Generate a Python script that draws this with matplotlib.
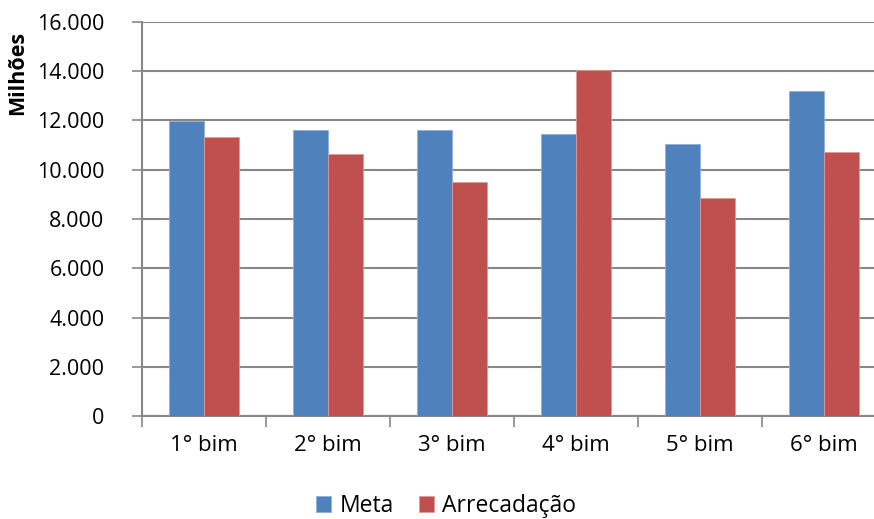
import matplotlib
matplotlib.use("Agg")
import matplotlib.pyplot as plt
import numpy as np

plt.rcParams['font.family'] = ['Open Sans', 'DejaVu Sans']

# bimonthly target vs. collected revenue (millions)
categorias = ["1° bim", "2° bim", "3° bim", "4° bim", "5° bim", "6° bim"]
meta = [11970, 11610, 11610, 11450, 11040, 13190]
arrecadacao = [11320, 10650, 9500, 14050, 8850, 10740]
yticks = [0, 2000, 4000, 6000, 8000, 10000, 12000, 14000, 16000]
ytick_labels = ["0", "2.000", "4.000", "6.000", "8.000", "10.000", "12.000", "14.000", "16.000"]

azul = "#4F81BD"
vermelho = "#C0504D"
cinza = "#878787"

fig = plt.figure(figsize=(8.74, 5.19), dpi=100)
ax = fig.add_axes([142 / 874, 1 - 416 / 519, 744 / 874, 394 / 519])

x = np.arange(len(categorias))
w = 0.286
ax.bar(x - w / 2, meta, w, color=azul, edgecolor="#8fb0da", linewidth=0.6, label="Meta", zorder=3)
ax.bar(x + w / 2, arrecadacao, w, color=vermelho, edgecolor="#e09a98", linewidth=0.6, label="Arrecadação", zorder=3)

ax.set_xlim(-0.5, len(categorias) - 0.5)
ax.set_ylim(0, 16000)
ax.set_yticks(yticks)
ax.set_yticklabels(ytick_labels)
ax.yaxis.grid(True, color=cinza, linewidth=1.5, zorder=0)

ax.set_xticks(np.arange(len(categorias) + 1) - 0.5, minor=False)
ax.set_xticklabels([])
ax.set_xticks(x, minor=True)
ax.set_xticklabels(categorias, minor=True)
ax.tick_params(axis="x", which="major", length=8, color=cinza, width=1.2, direction="out")
ax.tick_params(axis="x", which="minor", length=0, pad=14, labelsize=16)
ax.tick_params(axis="y", length=7, color=cinza, width=1.2, pad=20, labelsize=15.5)

for s in ["top", "right"]:
    ax.spines[s].set_visible(False)
for s in ["left", "bottom"]:
    ax.spines[s].set_color(cinza)
    ax.spines[s].set_linewidth(1.5)

fig.text(18 / 874, 1 - 73 / 519, "Milhões", rotation=90, ha="center", va="center",
         fontsize=15.5, fontweight="bold")

fig.legend(loc="center", bbox_to_anchor=(446 / 874, 1 - 506 / 519), ncol=2, frameon=False,
           fontsize=16.5, handlelength=0.65, handleheight=0.65, handletextpad=0.35, columnspacing=1.1)

fig.savefig("out.png", dpi=100)
